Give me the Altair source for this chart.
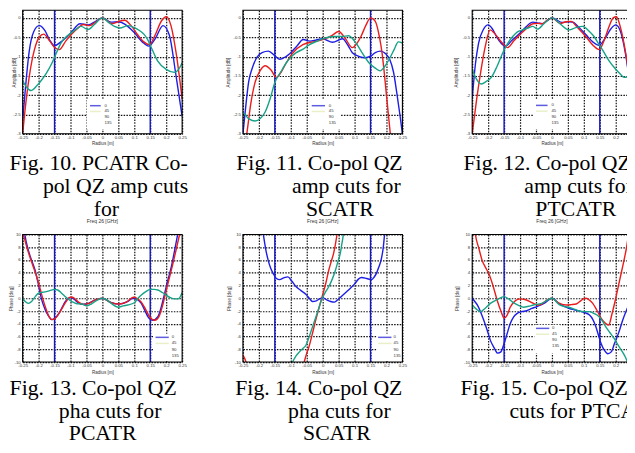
import altair as alt
import pandas as pd

# ---------------- data ----------------
radius_ticks = [-0.25, -0.2, -0.15, -0.1, -0.05, 0, 0.05, 0.1, 0.15, 0.2, 0.25]
amp_ticks = [0, -0.5, -1, -1.5, -2, -2.5, -3]
pha_ticks = [10, 8, 6, 4, 2, 0, -2, -4, -6, -8, -10]
cut_radius = [-0.15, 0.15]
legend_labels = ["0", "45", "90", "135"]
panel_title = "Freq 26 [GHz]"
x_title = "Radius [m]"
amp_title = "Amplitude [dB]"
pha_title = "Phase [deg]"

cap10 = ["Fig. 10. PCATR Co-", "pol QZ amp cuts", "for"]
cap11 = ["Fig. 11. Co-pol QZ", "amp cuts for", "SCATR"]
cap12 = ["Fig. 12. Co-pol QZ", "amp cuts for", "PTCATR"]
cap13 = ["Fig. 13. Co-pol QZ", "pha cuts for", "PCATR"]
cap14 = ["Fig. 14. Co-pol QZ", "pha cuts for", "SCATR"]
cap15 = ["Fig. 15. Co-pol QZ pha", "cuts for PTCATR"]

# Fig 10 - PCATR amplitude
f10_blue_r = [-0.25, -0.24, -0.23, -0.215, -0.198, -0.18, -0.165, -0.15, -0.13, -0.1, -0.07, -0.045, -0.02, 0, 0.027, 0.05, 0.07, 0.1, 0.125, 0.145, 0.165, 0.19, 0.21, 0.23, 0.25]
f10_blue_v = [-2.65, -1.7, -0.9, -0.35, -0.2, -0.33, -0.58, -0.72, -0.62, -0.4, -0.15, -0.18, -0.08, 0, -0.11, -0.1, -0.16, -0.38, -0.62, -0.73, -0.55, -0.2, -0.45, -1.45, -2.55]
f10_red_r = [-0.25, -0.24, -0.229, -0.213, -0.198, -0.184, -0.165, -0.148, -0.135, -0.115, -0.1, -0.075, -0.06, -0.04, -0.02, 0, 0.03, 0.055, 0.07, 0.09, 0.11, 0.13, 0.148, 0.165, 0.185, 0.2, 0.215, 0.231, 0.25]
f10_red_v = [-3.0, -2.2, -1.5, -0.82, -0.5, -0.42, -0.6, -0.78, -0.82, -0.6, -0.45, -0.25, -0.17, -0.2, -0.1, 0, -0.15, -0.08, -0.06, -0.2, -0.43, -0.62, -0.69, -0.45, -0.08, 0.03, -0.2, -0.9, -2.1]
f10_green_r = [-0.25, -0.237, -0.224, -0.205, -0.19, -0.175, -0.16, -0.145, -0.13, -0.115, -0.098, -0.08, -0.067, -0.045, -0.025, 0, 0.02, 0.038, 0.055, 0.08, 0.1, 0.115, 0.13, 0.142, 0.155, 0.173, 0.2, 0.226, 0.24, 0.25]
f10_green_v = [-1.62, -1.8, -1.88, -1.75, -1.6, -1.42, -1.2, -0.92, -0.65, -0.5, -0.39, -0.28, -0.22, -0.3, -0.17, 0, -0.12, -0.22, -0.26, -0.2, -0.25, -0.32, -0.42, -0.56, -0.8, -1.11, -1.33, -1.41, -1.32, -1.16]

# Fig 11 - SCATR amplitude
f11_blue_r = [-0.25, -0.24, -0.232, -0.222, -0.207, -0.19, -0.17, -0.15, -0.134, -0.115, -0.1, -0.08, -0.061, -0.04, -0.02, 0, 0.031, 0.062, 0.08, 0.093, 0.115, 0.134, 0.15, 0.165, 0.18, 0.2, 0.21, 0.222, 0.232, 0.242, 0.25]
f11_blue_v = [-3.0, -2.2, -1.65, -1.33, -1.03, -0.9, -0.86, -0.98, -1.07, -1.0, -0.9, -0.72, -0.56, -0.6, -0.57, -0.54, -0.63, -0.54, -0.72, -0.9, -1.0, -1.03, -0.99, -0.9, -0.86, -0.95, -1.07, -1.4, -1.92, -2.5, -3.0]
f11_red_r = [-0.25, -0.238, -0.225, -0.212, -0.195, -0.18, -0.162, -0.145, -0.13, -0.114, -0.093, -0.062, -0.03, 0, 0.03, 0.05, 0.07, 0.093, 0.108, 0.12, 0.135, 0.15, 0.165, 0.178, 0.186, 0.2, 0.212, 0.22]
f11_red_v = [-3.6, -3.0, -2.2, -1.67, -1.35, -1.24, -1.35, -1.54, -1.4, -1.16, -0.9, -0.69, -0.62, -0.56, -0.45, -0.35, -0.52, -0.77, -0.65, -0.48, -0.2, 0.0, -0.09, -0.5, -0.9, -2.0, -3.0, -3.6]
f11_green_r = [-0.25, -0.23, -0.212, -0.195, -0.18, -0.165, -0.15, -0.13, -0.114, -0.1, -0.083, -0.06, -0.041, -0.02, 0, 0.036, 0.06, 0.082, 0.095, 0.108, 0.125, 0.145, 0.165, 0.18, 0.195, 0.211, 0.225, 0.237, 0.25]
f11_green_v = [-2.43, -2.62, -2.67, -2.6, -2.43, -2.1, -1.67, -1.38, -1.16, -1.02, -0.9, -0.8, -0.69, -0.61, -0.54, -0.48, -0.48, -0.46, -0.55, -0.69, -0.92, -1.16, -1.3, -1.37, -1.25, -1.03, -0.8, -0.62, -0.65]

# Fig 12 - PTCATR amplitude
f12_blue_r = [-0.25, -0.24, -0.23, -0.215, -0.2, -0.187, -0.174, -0.16, -0.146, -0.125, -0.1, -0.08, -0.06, -0.045, -0.03, -0.015, 0, 0.033, 0.05, 0.065, 0.085, 0.106, 0.128, 0.148, 0.165, 0.185, 0.2, 0.215, 0.23, 0.24, 0.25]
f12_blue_v = [-2.1, -1.2, -0.65, -0.3, -0.18, -0.28, -0.48, -0.65, -0.73, -0.58, -0.39, -0.22, -0.11, -0.13, -0.15, -0.07, 0, -0.12, -0.1, -0.11, -0.25, -0.43, -0.62, -0.71, -0.55, -0.28, -0.18, -0.35, -0.9, -1.45, -2.1]
f12_red_r = [-0.25, -0.236, -0.222, -0.208, -0.194, -0.18, -0.165, -0.15, -0.139, -0.12, -0.1, -0.08, -0.06, -0.045, -0.03, -0.015, 0, 0.025, 0.045, 0.06, 0.08, 0.106, 0.13, 0.148, 0.165, 0.18, 0.192, 0.202, 0.215, 0.23, 0.25]
f12_red_v = [-3.0, -2.1, -1.33, -0.7, -0.31, -0.4, -0.56, -0.7, -0.77, -0.6, -0.43, -0.27, -0.15, -0.14, -0.15, -0.06, 0, -0.14, -0.1, -0.09, -0.25, -0.48, -0.72, -0.82, -0.55, -0.2, 0.0, 0.03, -0.25, -0.85, -2.0]
f12_green_r = [-0.25, -0.237, -0.222, -0.205, -0.19, -0.172, -0.154, -0.14, -0.123, -0.108, -0.092, -0.075, -0.06, -0.045, -0.025, 0, 0.025, 0.054, 0.075, 0.096, 0.115, 0.132, 0.145, 0.158, 0.178, 0.2, 0.215, 0.226, 0.24, 0.25]
f12_green_v = [-1.33, -1.58, -1.71, -1.64, -1.54, -1.25, -0.9, -0.68, -0.48, -0.36, -0.31, -0.26, -0.22, -0.29, -0.15, 0, -0.15, -0.31, -0.25, -0.22, -0.33, -0.48, -0.65, -0.82, -1.1, -1.33, -1.46, -1.54, -1.52, -1.41]

# Fig 13 - PCATR phase
f13_blue_r = [-0.25, -0.243, -0.232, -0.222, -0.211, -0.2, -0.19, -0.18, -0.17, -0.159, -0.148, -0.138, -0.127, -0.117, -0.108, -0.1, -0.09, -0.078, -0.066, -0.05, -0.024, 0, 0.028, 0.054, 0.08, 0.095, 0.11, 0.122, 0.133, 0.143, 0.158, 0.174, 0.185, 0.195, 0.205, 0.216, 0.226, 0.236, 0.245]
f13_blue_v = [13, 10, 7.5, 5.97, 4.4, 2.0, -0.3, -1.7, -2.67, -3.35, -3.1, -2.5, -1.5, -0.58, -0.05, 0.1, -0.1, -0.6, -0.94, -0.9, -0.3, 0, -0.7, -0.9, -0.5, 0.0, -0.2, -0.79, -1.9, -2.9, -3.45, -2.9, -1.3, 0.73, 2.8, 4.9, 7.4, 10, 12.5]
f13_red_r = [-0.255, -0.245, -0.232, -0.22, -0.21, -0.2, -0.19, -0.178, -0.167, -0.156, -0.145, -0.13, -0.115, -0.104, -0.097, -0.088, -0.075, -0.06, -0.045, -0.024, 0, 0.024, 0.049, 0.075, 0.09, 0.098, 0.108, 0.122, 0.135, 0.148, 0.164, 0.178, 0.19, 0.2, 0.21, 0.22, 0.232, 0.242, 0.25]
f13_red_v = [12, 9.5, 7.2, 5.4, 4.0, 2.4, 0.5, -1.5, -2.9, -3.35, -3.0, -1.9, -0.6, 0.1, 0.2, 0.0, -0.6, -0.95, -0.85, -0.3, 0, -0.6, -0.9, -0.6, 0.0, 0.15, 0.0, -0.6, -1.7, -2.9, -3.45, -2.8, -0.9, 1.2, 3.2, 5.2, 7.8, 10, 11.8]
f13_green_r = [-0.25, -0.242, -0.232, -0.222, -0.21, -0.2, -0.18, -0.165, -0.15, -0.14, -0.128, -0.115, -0.097, -0.08, -0.065, -0.05, -0.035, -0.02, 0, 0.015, 0.028, 0.049, 0.065, 0.08, 0.1, 0.11, 0.122, 0.135, 0.15, 0.162, 0.174, 0.188, 0.2, 0.213, 0.226, 0.238, 0.25]
f13_green_v = [0, -0.5, -0.8, -0.5, 0.3, 0.8, 1.0, 1.2, 1.4, 1.3, 0.8, 0.2, -0.5, -0.85, -0.9, -1.2, -0.9, -0.4, 0, -0.3, -0.8, -1.4, -1.2, -1.05, -0.7, -0.1, 0.5, 1.0, 1.4, 1.4, 1.3, 0.9, 0.5, 0.1, -0.1, -0.1, 0.9]

# Fig 14 - SCATR phase
f14_blue_r = [-0.2, -0.186, -0.179, -0.171, -0.163, -0.155, -0.145, -0.135, -0.122, -0.109, -0.097, -0.083, -0.068, -0.053, -0.042, -0.032, -0.02, -0.01, 0, 0.014, 0.025, 0.037, 0.048, 0.055, 0.068, 0.081, 0.101, 0.112, 0.122, 0.138, 0.153, 0.161, 0.168, 0.176, 0.183, 0.19, 0.194, 0.2]
f14_blue_v = [15, 10, 7.8, 5.97, 4.7, 3.87, 3.1, 2.93, 3.2, 3.35, 2.7, 1.8, 1.2, 0.63, 0.0, -0.5, -0.4, -0.1, 0.1, -0.3, -0.5, -0.6, -0.2, 0.1, 0.7, 1.3, 2.3, 3.0, 3.25, 3.1, 2.93, 3.3, 3.87, 4.9, 5.97, 8.0, 10, 13]
f14_red_r = [-0.25, -0.244, -0.236, -0.07, -0.058, -0.05, -0.043, -0.032, -0.022, -0.012, -0.002, 0.009, 0.019, 0.027, 0.034, 0.04, 0.045, 0.05]
f14_red_v = [-8.9, -9.5, -10.4, -12, -10, -8.6, -7.6, -5.5, -3.45, -1.6, 0.2, 2.2, 4.4, 5.8, 7.0, 8.5, 10, 11.5]
f14_green_r = [-0.1, -0.094, -0.083, -0.073, -0.063, -0.053, -0.042, -0.032, -0.017, -0.002, 0.009, 0.019, 0.03, 0.04, 0.048, 0.055, 0.06, 0.065, 0.07]
f14_green_v = [-11, -10, -9.0, -8.4, -7.9, -7.4, -6.0, -4.5, -2.3, -0.05, 1.0, 1.8, 3.0, 4.4, 5.8, 7.0, 8.5, 10, 11.5]

# Fig 15 - PTCATR phase
f15_blue_r = [-0.25, -0.242, -0.234, -0.224, -0.214, -0.203, -0.193, -0.182, -0.17, -0.16, -0.152, -0.142, -0.131, -0.12, -0.11, -0.095, -0.079, -0.063, -0.048, -0.025, 0, 0.024, 0.04, 0.055, 0.07, 0.086, 0.1, 0.117, 0.128, 0.138, 0.146, 0.154, 0.165, 0.175, 0.186, 0.196, 0.21, 0.222, 0.236, 0.25]
f15_blue_v = [0.0, -0.5, -1.05, -2.1, -3.4, -5.0, -6.6, -7.7, -8.6, -8.4, -7.4, -5.8, -4.0, -2.9, -2.4, -2.1, -1.95, -1.6, -1.3, -0.8, 0, -0.9, -1.3, -1.6, -1.8, -2.0, -2.2, -2.6, -3.3, -4.5, -5.8, -7.1, -8.2, -8.7, -8.4, -7.1, -5.3, -3.4, -1.6, 0.0]
f15_red_r = [-0.245, -0.24, -0.229, -0.219, -0.208, -0.198, -0.185, -0.172, -0.16, -0.15, -0.14, -0.131, -0.115, -0.1, -0.085, -0.069, -0.055, -0.043, -0.032, -0.022, 0, 0.012, 0.024, 0.045, 0.06, 0.076, 0.09, 0.1, 0.107, 0.118, 0.128, 0.14, 0.154, 0.165, 0.178, 0.188, 0.2, 0.213, 0.226, 0.234, 0.24, 0.245]
f15_red_v = [12, 10, 7.8, 5.97, 4.8, 3.87, 2.0, -0.26, -2.0, -3.1, -2.6, -1.4, -0.4, -0.1, -0.2, -0.52, -0.9, -1.05, -0.9, -0.5, 0, -0.4, -0.8, -1.05, -1.0, -0.9, -0.4, -0.05, 0.0, -0.3, -0.8, -1.8, -3.1, -3.8, -4.2, -2.5, 0.0, 3.0, 5.97, 8.0, 10, 12]
f15_green_r = [-0.25, -0.237, -0.224, -0.21, -0.193, -0.172, -0.15, -0.136, -0.121, -0.105, -0.089, -0.073, -0.058, -0.032, 0, 0.024, 0.04, 0.055, 0.07, 0.086, 0.1, 0.117, 0.133, 0.148, 0.16, 0.169, 0.182, 0.195, 0.208, 0.221, 0.23, 0.237, 0.245]
f15_green_v = [-1.05, -1.7, -2.1, -1.6, -0.8, -0.2, 0.26, -0.1, -0.68, -1.1, -1.4, -1.25, -1.05, -0.8, 0, -1.05, -1.3, -1.45, -1.7, -2.0, -2.1, -2.1, -2.4, -2.9, -3.7, -4.5, -5.4, -6.3, -7.4, -8.4, -9.2, -10, -10.8]

# ---------------- styling / layout ----------------
SANS = "Liberation Sans"
SERIF = "Liberation Serif"
LINE_COLORS = {"blue": "#1d1de6", "red": "#ea1c1c", "green": "#17a288"}
CUT_COLOR = "#1515c8"
LEGEND_LINE_COLORS = ["#5c5ce0", "#e9f0c8", "white", "white"]

COL_LEFT = [21.7, 242.7, 472.7]      # page x of each plot area
COL_GAPS = [61, 70]
ROW_TOP = [8.5, 233.5]               # page y of each row's plot area
ROW_H = [124, 128]
PANEL_W = 160
ROW_GAP = ROW_TOP[1] - (ROW_TOP[0] + ROW_H[0])
ANCHOR_TL = (-70, -90)               # invisible top-left corner, layout coordinates
ANCHOR_BR = (750, 560)               # invisible bottom-right corner, layout coordinates
SVG_W, SVG_H = 619, 437              # drawing must fit the page without being shrunk
CAP_SIZE = 21.8

ONE = pd.DataFrame({"k": [0]})


def series_df(r, v):
    assert len(r) == len(v)
    return pd.DataFrame({"r": r, "v": v})


def corner(p):
    return alt.Chart(ONE).mark_rect(opacity=0).encode(
        x=alt.value(p[0]), x2=alt.value(p[0] + 1), y=alt.value(p[1]), y2=alt.value(p[1] + 1))


def make_panel(col, row, series, yvals, ydom, ytitle, ytoff, legend, captions, cap_pos):
    L = COL_LEFT[col]
    T = ROW_TOP[row]
    W = PANEL_W
    H = ROW_H[row]
    xs = alt.Scale(domain=[-0.25, 0.25], nice=False, zero=False)
    ys = alt.Scale(domain=ydom, nice=False, zero=False)
    common = dict(grid=True, gridColor="#111111", gridDash=[1.5, 1.3], gridWidth=1.2, gridOpacity=1,
                  ticks=False, tickSize=0, domain=False, labelFontSize=4.3, labelFont=SANS,
                  labelColor="#333333", labelOverlap=False, labelExpr="datum.value + ''",
                  titleFontSize=4.6, titleFont=SANS, titleFontWeight="normal", titleColor="#333333")
    xax = alt.Axis(values=radius_ticks, labelPadding=1.8, labelFlush=False, title=x_title,
                   titleY=10, titleBaseline="middle", **common)
    yax = alt.Axis(values=yvals, labelPadding=2.5, labelFlush=False, title=ytitle, titleX=-ytoff,
                   titleY=H / 2, titleAngle=270, titleBaseline="middle", titleAlign="center", **common)
    X = alt.X("r:Q", scale=xs, axis=xax)
    Y = alt.Y("v:Q", scale=ys, axis=yax)

    layers = [alt.Chart(pd.DataFrame({"r": cut_radius})).mark_rule(color=CUT_COLOR, strokeWidth=1.4).encode(x=X)]
    for name, (r, v) in series:
        layers.append(
            alt.Chart(series_df(r, v)).mark_line(clip=True, interpolate="monotone", strokeWidth=1.4,
                                                 color=LINE_COLORS[name]).encode(x=X, y=Y)
        )
    # legend box
    bx0, by0, bx1, by1 = legend["box"]
    layers.append(alt.Chart(ONE).mark_rect(color="white").encode(
        x=alt.value(bx0 - L), x2=alt.value(bx1 - L), y=alt.value(by0 - T), y2=alt.value(by1 - T)))
    lx0, lx1 = legend["line"]
    for i, lab in enumerate(legend_labels):
        yy = legend["ty0"] + i * legend["dy"] - T
        if LEGEND_LINE_COLORS[i] != "white":
            layers.append(alt.Chart(ONE).mark_rule(color=LEGEND_LINE_COLORS[i], strokeWidth=1.5).encode(
                x=alt.value(lx0 - L), x2=alt.value(lx1 - L), y=alt.value(yy)))
        layers.append(alt.Chart(ONE).mark_text(text=lab, align="left", baseline="middle", fontSize=4.3,
                                               font=SANS, color="#333333").encode(
            x=alt.value(legend["tx"] - L), y=alt.value(yy)))
    # plot frame
    layers.append(alt.Chart(ONE).mark_rect(fillOpacity=0, stroke="black", strokeWidth=1.1).encode(
        x=alt.value(0), x2=alt.value(W), y=alt.value(0), y2=alt.value(H)))
    # caption under the panel
    for line, (px, py) in zip(captions, cap_pos):
        layers.append(alt.Chart(ONE).mark_text(text=line, align="left", baseline="alphabetic",
                                               fontSize=CAP_SIZE, font=SERIF, color="black").encode(
            x=alt.value(px - L), y=alt.value(py - T)))
    title = alt.TitleParams(text=panel_title, fontSize=5, font=SANS, fontWeight="normal", color="#333333",
                            offset=3.5, frame="group", baseline="bottom", anchor="middle")
    return alt.layer(*layers).properties(width=W, height=H, title=title)


def spacer(w, h, origin=None, anchor=None):
    layers = [alt.Chart(ONE).mark_rect(opacity=0).encode(
        x=alt.value(0), x2=alt.value(1), y=alt.value(0), y2=alt.value(1))]
    if anchor is not None:
        layers.append(corner((anchor[0] - origin[0], anchor[1] - origin[1])))
    return alt.layer(*layers).properties(width=w, height=h)


AMP_DOM = [-3, 0.2]
PHA_DOM = [-10, 10]

p10 = make_panel(0, 0, [("blue", (f10_blue_r, f10_blue_v)), ("red", (f10_red_r, f10_red_v)), ("green", (f10_green_r, f10_green_v))],
                 amp_ticks, AMP_DOM, amp_title, 8.5,
                 dict(box=(86, 98, 117, 128), line=(89.3, 100), tx=103.8, ty0=104.3, dy=5.8),
                 cap10, [(8.6, 169), (42, 192), (93, 214.5)])
p11 = make_panel(1, 0, [("blue", (f11_blue_r, f11_blue_v)), ("red", (f11_red_r, f11_red_v)), ("green", (f11_green_r, f11_green_v))],
                 amp_ticks, AMP_DOM, amp_title, 14.4,
                 dict(box=(310, 98, 341, 128), line=(311.7, 325), tx=328.8, ty0=104.3, dy=5.8),
                 cap11, [(236, 169), (292, 192), (306, 214.5)])
p12 = make_panel(2, 0, [("blue", (f12_blue_r, f12_blue_v)), ("red", (f12_red_r, f12_red_v)), ("green", (f12_green_r, f12_green_v))],
                 amp_ticks, AMP_DOM, amp_title, 15.3,
                 dict(box=(534, 98, 561, 128), line=(536.7, 548.3), tx=552.2, ty0=104.0, dy=5.8),
                 cap12, [(464, 169), (525, 192), (536, 214.5)])
p13 = make_panel(0, 1, [("blue", (f13_blue_r, f13_blue_v)), ("red", (f13_red_r, f13_red_v)), ("green", (f13_green_r, f13_green_v))],
                 pha_ticks, PHA_DOM, pha_title, 11.0,
                 dict(box=(153, 333, 181.7, 360.5), line=(155, 168.3), tx=171.2, ty0=336.7, dy=6.1),
                 cap13, [(8.6, 394.5), (58, 417.5), (68, 439.5)])
p14 = make_panel(1, 1, [("blue", (f14_blue_r, f14_blue_v)), ("red", (f14_red_r, f14_red_v)), ("green", (f14_green_r, f14_green_v))],
                 pha_ticks, PHA_DOM, pha_title, 13.4,
                 dict(box=(377, 333, 402.7, 360.5), line=(378.3, 391.7), tx=393.8, ty0=336.7, dy=6.1),
                 cap14, [(235, 394.5), (288, 417.5), (303, 439.5)])
p15 = make_panel(2, 1, [("blue", (f15_blue_r, f15_blue_v)), ("red", (f15_red_r, f15_red_v)), ("green", (f15_green_r, f15_green_v))],
                 pha_ticks, PHA_DOM, pha_title, 14.4,
                 dict(box=(535, 324, 561, 353), line=(536.7, 550), tx=552.8, ty0=327.7, dy=5.9),
                 cap15, [(461, 394.5), (510, 417.5)])

# layout coordinates of the spacer cells that carry the invisible corners
s1_origin = (PANEL_W, 0)
s4_origin = (2 * PANEL_W + COL_GAPS[0] + COL_GAPS[1] - COL_GAPS[1], ROW_H[0] + ROW_GAP)
s4_origin = (PANEL_W + COL_GAPS[0] + PANEL_W, ROW_H[0] + ROW_GAP)

view_w = (ANCHOR_BR[0] + 1) - ANCHOR_TL[0]
view_h = (ANCHOR_BR[1] + 1) - ANCHOR_TL[1]
pad_left = COL_LEFT[0] - 8 + ANCHOR_TL[0]
pad_top = ROW_TOP[0] - 8 + ANCHOR_TL[1]
pad_right = SVG_W - view_w - pad_left
pad_bottom = SVG_H - view_h - pad_top

chart = alt.concat(
    p10, spacer(COL_GAPS[0], ROW_H[0], s1_origin, ANCHOR_TL), p11, spacer(COL_GAPS[1], ROW_H[0]), p12,
    p13, spacer(COL_GAPS[0], ROW_H[1]), p14, spacer(COL_GAPS[1], ROW_H[1], s4_origin, ANCHOR_BR), p15,
    columns=5, spacing={"row": ROW_GAP, "column": 0}, bounds="flush",
).properties(
    padding={"left": pad_left, "top": pad_top, "right": pad_right, "bottom": pad_bottom},
    background="white",
).configure_view(stroke="transparent")

chart.save("out.html", embed_options={"renderer": "svg", "actions": False})
